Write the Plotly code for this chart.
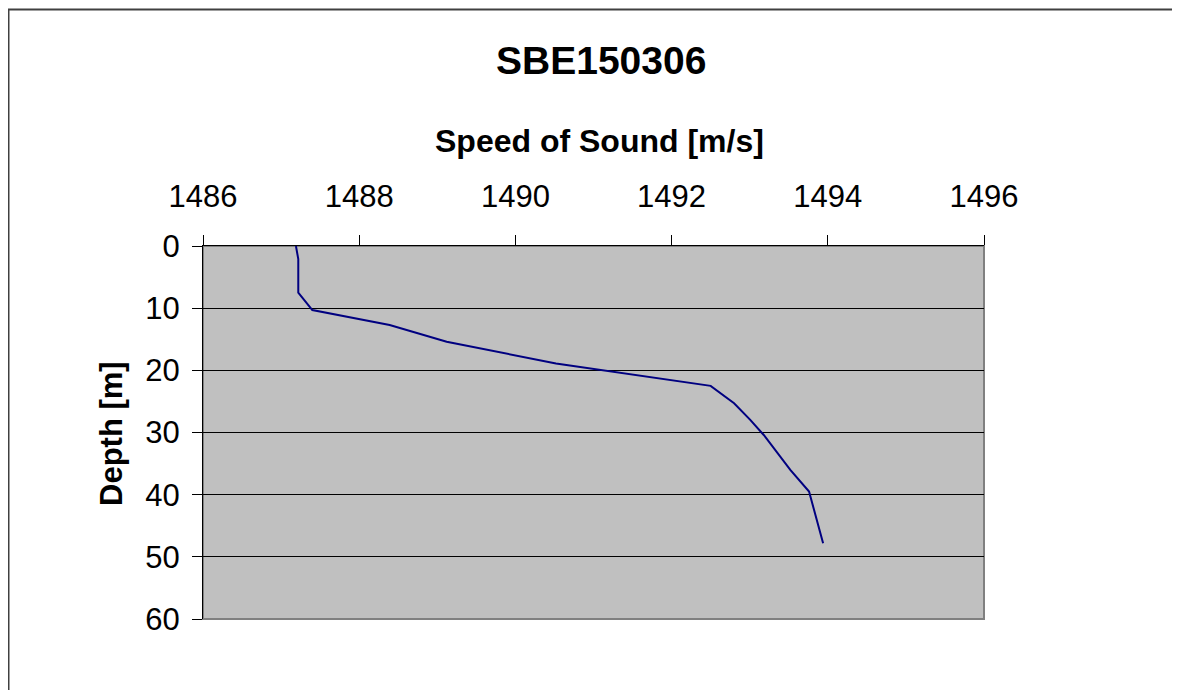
import plotly.graph_objects as go

# CTD cast SBE150306: sound speed profile
speed = [1487.19, 1487.22, 1487.22, 1487.40, 1488.39, 1489.12, 1490.52, 1492.50,
         1492.80, 1493.01, 1493.18, 1493.34, 1493.52, 1493.76, 1493.94]
depth = [0.0, 2.1, 7.5, 10.3, 12.7, 15.4, 18.9, 22.5,
         25.3, 28.0, 30.4, 33.0, 36.0, 39.5, 47.8]

x_ticks = [1486, 1488, 1490, 1492, 1494, 1496]
y_ticks = [0, 10, 20, 30, 40, 50, 60]

FONT = "Liberation Sans, Arial, sans-serif"

# the page body has an 8px margin, so work in page pixels and shift
OFF = 8
W, H = 1172, 682
# plot area on the page: x 203..984, y 246..619
L, T = 203 - OFF, 246 - OFF
R, B = W - (984 - OFF), H - (619 - OFF)
pw, ph = W - L - R, H - T - B


def px(x):
    return (x - OFF - L) / pw


def py(y):
    return (H - B - (y - OFF)) / ph


def label(text, x, y, size, angle=0):
    return {
        "text": text,
        "x": px(x),
        "y": py(y),
        "xref": "paper",
        "yref": "paper",
        "xanchor": "center",
        "yanchor": "middle",
        "showarrow": False,
        "textangle": angle,
        "font": {"size": size},
    }


fig = go.Figure()
fig.add_trace(
    go.Scatter(
        x=speed,
        y=depth,
        mode="lines",
        line={"color": "#000080", "width": 2},
        hoverinfo="skip",
        showlegend=False,
    )
)

fig.update_layout(
    width=W,
    height=H,
    margin={"l": L, "r": R, "t": T, "b": B, "pad": 0},
    paper_bgcolor="white",
    plot_bgcolor="#c0c0c0",
    font={"family": FONT, "color": "black", "size": 31},
    annotations=[
        label("<b>SBE150306</b>", 601, 61, 39),
        label("<b>Speed of Sound [m/s]</b>", 599, 141, 32),
        label("<b>Depth [m]</b>", 111, 434, 31, angle=-90),
    ],
    shapes=[
        # plot area frame
        {
            "type": "rect",
            "xref": "paper",
            "yref": "paper",
            "x0": 0, "x1": 1, "y0": 0, "y1": 1,
            "line": {"color": "#808080", "width": 2},
            "layer": "below",
        },
        # outer chart border
        {
            "type": "rect",
            "xref": "paper",
            "yref": "paper",
            "x0": px(8.5), "x1": px(1200), "y0": py(710), "y1": py(9.5),
            "line": {"color": "#404040", "width": 2},
        },
    ],
)

fig.update_xaxes(
    side="top",
    range=[1486, 1496],
    tickvals=x_ticks,
    ticks="outside",
    ticklen=10,
    tickcolor="black",
    tickwidth=1,
    showline=True,
    linecolor="black",
    linewidth=1,
    showgrid=False,
    zeroline=False,
    ticklabelstandoff=16,
)
fig.update_yaxes(
    range=[60, 0],
    tickvals=y_ticks,
    ticks="outside",
    ticklen=10,
    tickcolor="black",
    tickwidth=1,
    showline=True,
    linecolor="black",
    linewidth=1,
    showgrid=True,
    gridcolor="black",
    gridwidth=1,
    zeroline=False,
    ticklabelstandoff=6,
)

fig.write_html("out.html")
